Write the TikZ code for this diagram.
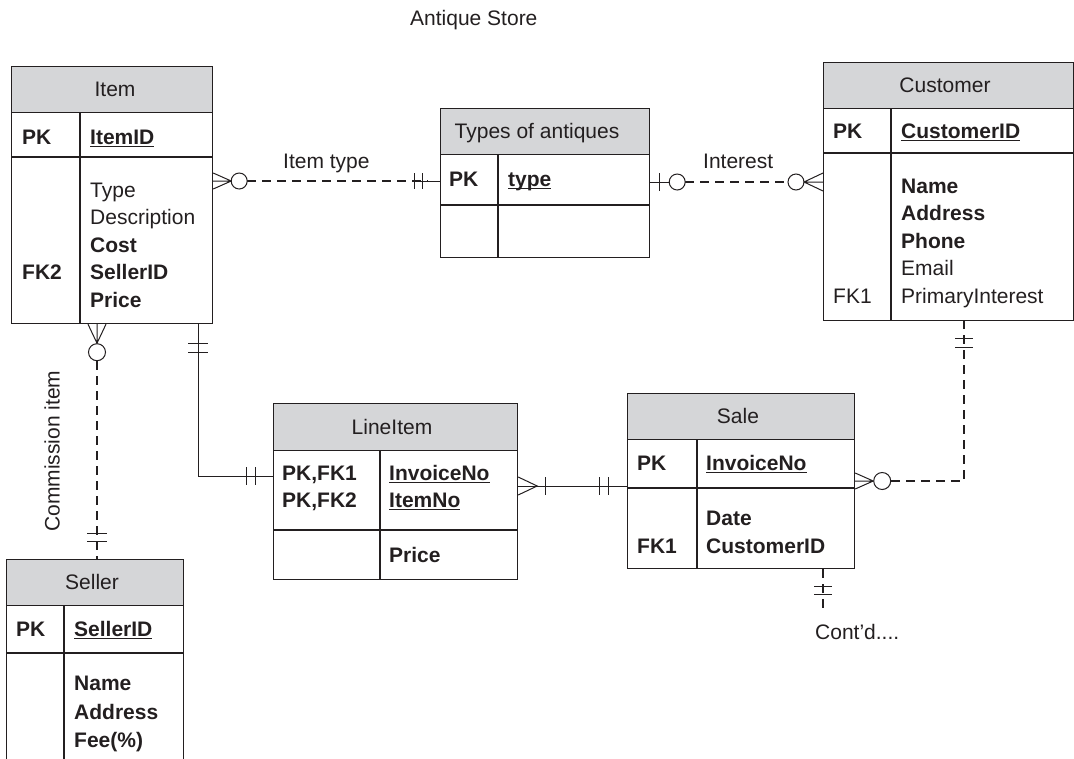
\documentclass[tikz,border=0pt]{standalone}
\usepackage{fontspec}
\setmainfont{Liberation Sans}
\usetikzlibrary{calc}
\definecolor{hdrgray}{RGB}{213,214,216}
\definecolor{ink}{RGB}{35,31,32}
\newcommand\ulx[1]{\setbox0\hbox{#1}\rlap{\rule[-3pt]{\wd0}{1.2pt}}\box0}
\begin{document}
\begin{tikzpicture}[x=1pt,y=-1pt,
  every node/.style={font=\fontsize{21}{24}\selectfont, text=ink},
  tbl/.style={draw=ink, line width=1.2pt, inner sep=0pt, anchor=north west},
  hdr/.style={tbl, fill=hdrgray},
  grid/.style={draw=ink, line width=1.2pt},
  tx/.style={inner sep=0pt, anchor=base west},
  ht/.style={inner sep=0pt, anchor=base},
  rel/.style={draw=ink, line width=2.3pt, dash pattern=on 9pt off 6pt},
  sol/.style={draw=ink, line width=1pt},
  mk/.style={draw=ink, line width=1pt},
  opt/.style={draw=ink, line width=1pt, fill=white}]
\useasboundingbox (0,0) rectangle (1074,758);
\clip (0,0) rectangle (1074,758);

% title
\node[tx] (title) at (410,25) {Antique Store};

% ---------- Item ----------
\node[tbl, minimum width=201pt, minimum height=257pt] (item) at (11,66) {};
\node[hdr, minimum width=201pt, minimum height=46pt] (itemh) at (11,66) {};
\draw[grid] (11,157) -- (212,157);
\draw[grid] (80,112) -- (80,323);
\node[ht] (itemt) at (115,96) {Item};
\node[tx] (itempk) at (22,144) {\bfseries PK};
\node[tx] (itemid) at (90,144) {\bfseries\ulx{ItemID}};
\node[tx] (itema1) at (90,197) {Type};
\node[tx] (itema2) at (90,224.5) {Description};
\node[tx] (itema3) at (90,252) {\bfseries Cost};
\node[tx] (itema4) at (90,279.5) {\bfseries SellerID};
\node[tx] (itemfk) at (22,279.5) {\bfseries FK2};
\node[tx] (itema5) at (90,307) {\bfseries Price};

% ---------- Types of antiques ----------
\node[tbl, minimum width=209pt, minimum height=149pt] (types) at (440,108) {};
\node[hdr, minimum width=209pt, minimum height=46pt] (typesh) at (440,108) {};
\draw[grid] (440,205) -- (649,205);
\draw[grid] (498,154) -- (498,257);
\node[ht] (typest) at (537,138) {Types of antiques};
\node[tx] (typespk) at (449,186) {\bfseries PK};
\node[tx] (typesid) at (508,186) {\bfseries\ulx{type}};

% ---------- Customer ----------
\node[tbl, minimum width=250pt, minimum height=258pt] (cust) at (823,62) {};
\node[hdr, minimum width=250pt, minimum height=46pt] (custh) at (823,62) {};
\draw[grid] (823,153) -- (1073,153);
\draw[grid] (891,108) -- (891,320);
\node[ht] (custt) at (945,92) {Customer};
\node[tx] (custpk) at (833,138) {\bfseries PK};
\node[tx] (custid) at (901,138) {\bfseries\ulx{CustomerID}};
\node[tx] (custa1) at (901,193) {\bfseries Name};
\node[tx] (custa2) at (901,220.5) {\bfseries Address};
\node[tx] (custa3) at (901,248) {\bfseries Phone};
\node[tx] (custa4) at (901,275.5) {Email};
\node[tx] (custa5) at (901,303) {PrimaryInterest};
\node[tx] (custfk) at (833,303) {FK1};

% ---------- LineItem ----------
\node[tbl, minimum width=244pt, minimum height=176pt] (line) at (273,403) {};
\node[hdr, minimum width=244pt, minimum height=47pt] (lineh) at (273,403) {};
\draw[grid] (273,530) -- (517,530);
\draw[grid] (380,450) -- (380,579);
\node[ht] (linet) at (392,434) {LineItem};
\node[tx] (linepk1) at (282,480) {\bfseries PK,FK1};
\node[tx] (linepk2) at (282,507) {\bfseries PK,FK2};
\node[tx] (linea1) at (389,480) {\bfseries\ulx{InvoiceNo}};
\node[tx] (linea2) at (389,507) {\bfseries\ulx{ItemNo}};
\node[tx] (linea3) at (389,562) {\bfseries Price};

% ---------- Sale ----------
\node[tbl, minimum width=227pt, minimum height=175pt] (sale) at (627,393) {};
\node[hdr, minimum width=227pt, minimum height=46pt] (saleh) at (627,393) {};
\draw[grid] (627,488) -- (854,488);
\draw[grid] (697,439) -- (697,568);
\node[ht] (salet) at (738,423) {Sale};
\node[tx] (salepk) at (637,470) {\bfseries PK};
\node[tx] (saleid) at (706,470) {\bfseries\ulx{InvoiceNo}};
\node[tx] (salea1) at (706,525) {\bfseries Date};
\node[tx] (salea2) at (706,553) {\bfseries CustomerID};
\node[tx] (salefk) at (637,553) {\bfseries FK1};

% ---------- Seller ----------
\node[tbl, minimum width=177pt, minimum height=240pt] (seller) at (6,559) {};
\node[hdr, minimum width=177pt, minimum height=46pt] (sellerh) at (6,559) {};
\draw[grid] (6,653) -- (183,653);
\draw[grid] (64,605) -- (64,800);
\node[ht] (sellert) at (92,589) {Seller};
\node[tx] (sellerpk) at (16,636) {\bfseries PK};
\node[tx] (sellerid) at (74,636) {\bfseries\ulx{SellerID}};
\node[tx] (sellera1) at (74,690) {\bfseries Name};
\node[tx] (sellera2) at (74,719) {\bfseries Address};
\node[tx] (sellera3) at (74,747) {\bfseries Fee(\%)};

% ---------- connectors ----------
% Item -- Types of antiques
\coordinate (it1) at (item.east |- 0,181);
\coordinate (it2) at (types.west |- 0,181);
\draw[rel] ($(it1)+(34,0)$) -- ($(it2)+(-12,0)$);
\draw[mk] ($(it2)+(-26,0)$) -- (it2);
\draw[mk] ($(it1)+(0,-8)$) -- ($(it1)+(18,0)$) -- ($(it1)+(0,8)$) ($(it1)$) -- ($(it1)+(18,0)$);
\draw[opt] ($(it1)+(26,0)$) circle (8);
\draw[mk] ($(it2)+(-26,-8)$) -- ($(it2)+(-26,8)$) ($(it2)+(-18,-8)$) -- ($(it2)+(-18,8)$);
\node[tx] (lblitem) at (283,168) {Item type};

% Types -- Customer
\coordinate (tc1) at (types.east |- 0,182);
\coordinate (tc2) at (cust.west |- 0,182);
\draw[rel] ($(tc1)+(35,0)$) -- ($(tc2)+(-35,0)$);
\draw[mk] (tc1) -- ($(tc1)+(19,0)$);
\draw[mk] ($(tc1)+(9,-9)$) -- ($(tc1)+(9,9)$);
\draw[opt] ($(tc1)+(27,0)$) circle (8);
\draw[opt] ($(tc2)+(-27,0)$) circle (8);
\draw[mk] ($(tc2)+(0,-9)$) -- ($(tc2)+(-19,0)$) -- ($(tc2)+(0,9)$) (tc2) -- ($(tc2)+(-19,0)$);
\node[tx] (lblint) at (703,168) {Interest};

% Item -- Seller
\coordinate (is1) at (item.south -| 97,0);
\coordinate (is2) at (seller.north -| 97,0);
\draw[rel] ($(is1)+(0,37)$) -- (is2);
\draw[mk] ($(is1)+(-9,0)$) -- ($(is1)+(0,19)$) -- ($(is1)+(9,0)$) (is1) -- ($(is1)+(0,19)$);
\draw[opt] ($(is1)+(0,28)$) circle (8.5);
\draw[mk] ($(is2)+(-10,-26)$) -- ($(is2)+(10,-26)$) ($(is2)+(-10,-18)$) -- ($(is2)+(10,-18)$);
\node[rotate=90, inner sep=0pt] (lblcom) at (52,451) {Commission item};

% Item -- LineItem
\coordinate (il1) at (item.south -| 198,0);
\coordinate (il2) at (line.west |- 0,476);
\draw[sol] (il1) -- (il1 |- il2) -- (il2);
\draw[mk] ($(il1)+(-10,19)$) -- ($(il1)+(10,19)$) ($(il1)+(-10,28)$) -- ($(il1)+(10,28)$);
\draw[mk] ($(il2)+(-27,-9)$) -- ($(il2)+(-27,9)$) ($(il2)+(-18,-9)$) -- ($(il2)+(-18,9)$);

% LineItem -- Sale
\coordinate (ls1) at (line.east |- 0,486);
\coordinate (ls2) at (sale.west |- 0,486);
\draw[sol] (ls1) -- (ls2);
\draw[mk] ($(ls1)+(0,-9)$) -- ($(ls1)+(19,0)$) -- ($(ls1)+(0,9)$);
\draw[mk] ($(ls1)+(27,-9)$) -- ($(ls1)+(27,9)$);
\draw[mk] ($(ls2)+(-28,-9)$) -- ($(ls2)+(-28,9)$) ($(ls2)+(-19,-9)$) -- ($(ls2)+(-19,9)$);

% Sale -- Customer
\coordinate (sc1) at (sale.east |- 0,481);
\coordinate (sc2) at (cust.south -| 964,0);
\draw[rel] ($(sc1)+(36,0)$) -- (sc2 |- sc1) -- (sc2);
\draw[mk] ($(sc1)+(0,-8)$) -- ($(sc1)+(18,0)$) -- ($(sc1)+(0,8)$) (sc1) -- ($(sc1)+(18,0)$);
\draw[opt] ($(sc1)+(27,0)$) circle (8.5);
\draw[mk] ($(sc2)+(-9,17)$) -- ($(sc2)+(9,17)$) ($(sc2)+(-9,26)$) -- ($(sc2)+(9,26)$);

% Sale -- continued
\coordinate (sd1) at (sale.south -| 823,0);
\coordinate (sd2) at (823,612);
\draw[rel] (sd1) -- (sd2);
\draw[mk] ($(sd1)+(-9,17)$) -- ($(sd1)+(9,17)$) ($(sd1)+(-9,25)$) -- ($(sd1)+(9,25)$);
\node[tx] (contd) at (815,639) {Cont’d....};
\end{tikzpicture}
\end{document}
